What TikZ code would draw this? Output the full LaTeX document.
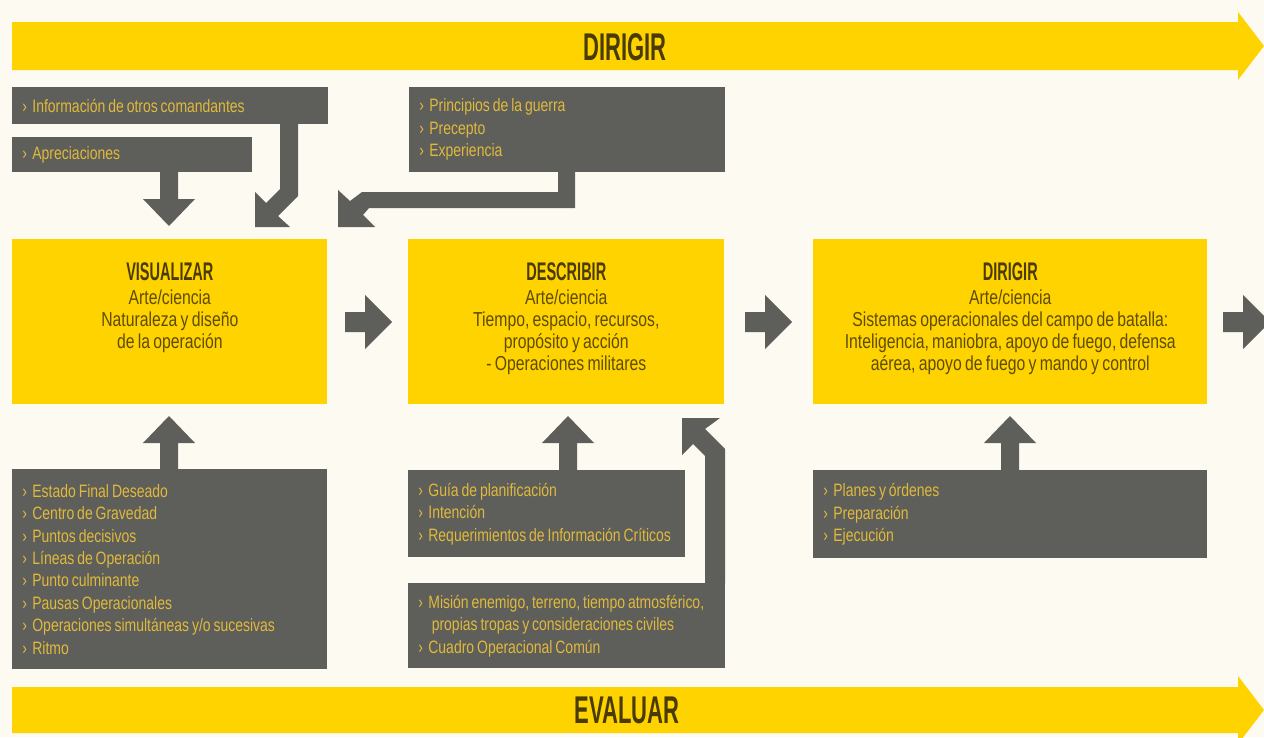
\documentclass[tikz,border=0pt]{standalone}
\usepackage{fontspec}
\setmainfont{Liberation Sans}[FakeStretch=0.78,WordSpace=0.75]
\newfontfamily\condfont{Liberation Sans}[FakeStretch=0.57]
\usetikzlibrary{positioning}

\definecolor{cream}{HTML}{FDFAF1}
\definecolor{yelfill}{HTML}{FFD300}
\definecolor{boxgray}{HTML}{5E5E5A}
\definecolor{goldtxt}{HTML}{E0BA3C}
\definecolor{olivetxt}{HTML}{5E4C00}
\definecolor{darktxt}{HTML}{4A3B00}

\newcommand{\itmark}{›\hspace{0.3em}}
\newcommand{\boxtitle}[1]{{\condfont\fontsize{14.5}{16}\selectfont\bfseries\color{darktxt}#1}}

\begin{document}
\begin{tikzpicture}[
    x=0.02cm,y=-0.02cm,
    graybox/.style={fill=boxgray,text=goldtxt,anchor=north west,align=flush left,
      inner xsep=0.2cm,inner ysep=0pt,font=\fontsize{10.2}{12.8}\selectfont},
    yelbox/.style={fill=yelfill,anchor=north west,inner sep=0pt},
    yeltxt/.style={text=olivetxt,align=center,anchor=north,inner sep=0pt,
      font=\fontsize{11.5}{12.6}\selectfont},
    band/.style={fill=yelfill},
    bandtxt/.style={text=darktxt,font=\condfont\fontsize{22}{24}\selectfont\bfseries},
    blk/.style={fill=boxgray}
    ]
    \fill[cream] (0,0) rectangle (1264,737);
    \useasboundingbox (0,0) rectangle (1264,737);

    % bands
    \fill[band] (12,22) -- (1238,22) -- (1238,12) -- (1264,46) -- (1238,80) -- (1238,70) -- (12,70) -- cycle;
    \node[bandtxt](dirtop) at (625,47){DIRIGIR};
    \fill[band] (12,687) -- (1238,687) -- (1238,676) -- (1264,710) -- (1238,744) -- (1238,733) -- (12,733) -- cycle;
    \node[bandtxt](evaluar) at (627,710){EVALUAR};

    % top inputs
    \node[graybox,text width=5.92cm,minimum height=0.74cm](info) at (12,87){\itmark Información de otros comandantes};
    \node[graybox,text width=4.4cm,minimum height=0.70cm](aprec) at (12,137){\itmark Apreciaciones};
    \node[graybox,text width=5.92cm,minimum height=1.70cm](princ) at (409,87){\itmark Principios de la guerra\\ \itmark Precepto\\ \itmark Experiencia};

    % main boxes
    \node[yelbox,minimum width=6.30cm,minimum height=3.30cm](vis) at (12,239){};
    \node[yelbox,minimum width=6.32cm,minimum height=3.30cm](desc) at (408,239){};
    \node[yelbox,minimum width=7.88cm,minimum height=3.30cm](dir) at (813,239){};
    \node[yeltxt,below=0.47cm of vis.north](vistxt){\boxtitle{VISUALIZAR}\\[1pt]
      Arte/ciencia\\ Naturaleza y diseño\\ de la operación};
    \node[yeltxt,below=0.47cm of desc.north](desctxt){\boxtitle{DESCRIBIR}\\[1pt]
      Arte/ciencia\\ Tiempo, espacio, recursos,\\ propósito y acción\\ - Operaciones militares};
    \node[yeltxt,below=0.47cm of dir.north](dirtxt){\boxtitle{DIRIGIR}\\[1pt]
      Arte/ciencia\\ Sistemas operacionales del campo de batalla:\\ Inteligencia, maniobra, apoyo de fuego, defensa\\ aérea, apoyo de fuego y mando y control};

    % bottom inputs
    \node[graybox,text width=5.90cm,minimum height=4.00cm](estado) at (12,469){\itmark Estado Final Deseado\\ \itmark Centro de Gravedad\\
      \itmark Puntos decisivos\\ \itmark Líneas de Operación\\ \itmark Punto culminante\\ \itmark Pausas Operacionales\\
      \itmark Operaciones simultáneas y/o sucesivas\\ \itmark Ritmo};
    \node[graybox,text width=5.14cm,minimum height=1.74cm](guia) at (408,470){\itmark Guía de planificación\\ \itmark Intención\\
      \itmark Requerimientos de Información Críticos};
    \node[graybox,text width=5.94cm,minimum height=1.70cm](mision) at (408,583){\itmark Misión enemigo, terreno, tiempo atmosférico,\\
      \hspace*{0.75em}propias tropas y consideraciones civiles\\ \itmark Cuadro Operacional Común};
    \node[graybox,text width=7.48cm,minimum height=1.76cm](planes) at (813,470){\itmark Planes y órdenes\\ \itmark Preparación\\ \itmark Ejecución};

    % down arrows into VISUALIZAR
    \fill[blk] (160,172) -- (178,172) -- (178,199) -- (195,199) -- (169,226) -- (143,199) -- (160,199) -- cycle;
    \fill[blk] (280,124) -- (298,124) -- (298,196) -- (278,216) -- (290,227) -- (255,227) -- (255,192) -- (266,203) -- (280,189) -- cycle;
    \fill[blk] (558,171) -- (575,171) -- (575,208) -- (369,208) -- (363,215) -- (375,227) -- (338,227) -- (338,190) -- (350,201) -- (362,192) -- (558,192) -- cycle;

    % right arrows
    \foreach \xa in {345,745,1223}
      \fill[blk] (\xa,312) -- (\xa+20,312) -- (\xa+20,295) -- (\xa+47,322) -- (\xa+20,349) -- (\xa+20,332) -- (\xa,332) -- cycle;

    % up arrows
    \foreach \xc in {169,568,1010}
      \fill[blk] (\xc-9,470) -- (\xc-9,443) -- (\xc-26,443) -- (\xc,416) -- (\xc+26,443) -- (\xc+9,443) -- (\xc+9,470) -- cycle;
    \fill[blk] (725,583) -- (725,449) -- (705,429) -- (720,418) -- (682,418) -- (682,455) -- (693,444) -- (705,456) -- (705,583) -- cycle;
  \end{tikzpicture}
\end{document}
